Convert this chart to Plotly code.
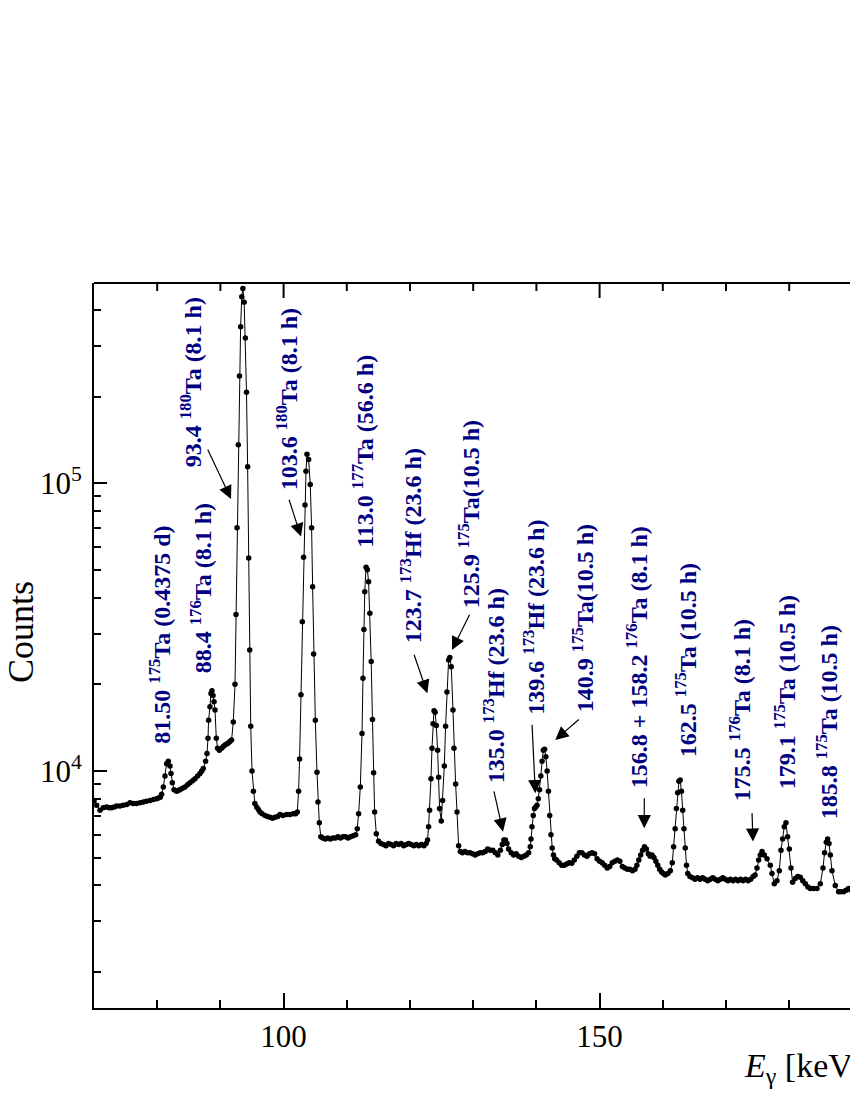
import numpy as np
import plotly.graph_objects as go

# ---------------- spectrum (energy in keV, counts) ----------------
energy_keV = [
    70.0, 70.41, 70.95, 71.47, 71.99, 72.4, 72.78, 73.2, 73.58, 74.1, 74.64, 75.2, 75.70, 76.2, 76.74,
    77.3, 77.80, 78.3, 78.86, 79.4, 79.91, 80.2, 80.49, 80.70, 80.97, 81.23, 81.49, 81.76, 82.03, 82.18,
    82.39, 82.66, 83.07, 83.3, 83.61, 84.0, 84.40, 84.8, 85.19, 85.6, 85.98, 86.4, 86.77, 87.05, 87.29,
    87.66, 87.88, 88.04, 88.13, 88.35, 88.51, 88.67, 88.83, 88.99, 89.15, 89.35, 89.56, 89.83, 90.19,
    90.46, 90.73, 91.0, 91.25, 91.5, 91.77, 92.04, 92.31, 92.47, 92.63, 92.83, 93.02, 93.20, 93.38,
    93.56, 93.76, 93.95, 94.13, 94.31, 94.48, 94.64, 94.80, 95.00, 95.22, 95.45, 95.73, 96.0, 96.27,
    96.6, 97.06, 97.45, 97.85, 98.25, 98.64, 99.05, 99.43, 99.9, 100.47, 101.0, 101.53, 101.9, 102.17,
    102.37, 102.53, 102.75, 102.96, 103.16, 103.39, 103.54, 103.70, 103.96, 104.22, 104.43, 104.59,
    104.75, 105.02, 105.28, 105.44, 105.65, 105.89, 106.2, 106.6, 107.0, 107.4, 107.8, 108.2, 108.6,
    109.0, 109.4, 109.8, 110.2, 110.6, 111.0, 111.4, 111.65, 111.87, 112.14, 112.41, 112.56, 112.70,
    112.84, 113.05, 113.25, 113.45, 113.65, 113.86, 114.06, 114.24, 114.40, 114.67, 115.03, 115.4,
    115.8, 116.2, 116.6, 117.0, 117.4, 117.8, 118.2, 118.6, 119.0, 119.4, 119.8, 120.2, 120.6, 121.0,
    121.4, 121.8, 122.2, 122.55, 122.78, 122.94, 123.10, 123.32, 123.48, 123.64, 123.80, 123.97, 124.16,
    124.37, 124.53, 124.68, 124.95, 125.16, 125.43, 125.63, 125.85, 126.11, 126.30, 126.53, 126.80,
    126.96, 127.22, 127.44, 127.69, 127.96, 128.3, 128.7, 129.1, 129.5, 129.9, 130.3, 130.7, 131.1,
    131.5, 131.9, 132.3, 132.7, 133.1, 133.5, 133.9, 134.3, 134.6, 134.85, 135.1, 135.35, 135.6, 136.0,
    136.4, 136.8, 137.2, 137.6, 138.0, 138.4, 138.77, 139.03, 139.15, 139.30, 139.50, 139.70, 139.90,
    140.10, 140.30, 140.50, 140.70, 140.90, 141.10, 141.30, 141.50, 141.70, 141.90, 142.10, 142.30,
    142.50, 142.70, 142.90, 143.2, 143.6, 144.0, 144.4, 144.8, 145.2, 145.6, 146.0, 146.4, 146.8, 147.2,
    147.6, 148.0, 148.4, 148.8, 149.2, 149.6, 150.0, 150.4, 150.8, 151.2, 151.6, 152.0, 152.4, 152.8,
    153.2, 153.6, 154.0, 154.4, 154.8, 155.2, 155.6, 155.9, 156.2, 156.5, 156.8, 157.1, 157.4, 157.7,
    158.0, 158.3, 158.6, 158.9, 159.2, 159.5, 159.8, 160.1, 160.4, 160.8, 161.2, 161.5, 161.71, 161.95,
    162.15, 162.35, 162.55, 162.75, 162.95, 163.15, 163.35, 163.55, 163.75, 163.95, 164.3, 164.7, 165.1,
    165.5, 165.9, 166.3, 166.7, 167.1, 167.5, 167.9, 168.3, 168.7, 169.1, 169.5, 169.9, 170.3, 170.7,
    171.1, 171.5, 171.9, 172.3, 172.7, 173.1, 173.5, 173.9, 174.3, 174.6, 174.9, 175.16, 175.43, 175.70,
    176.06, 176.49, 177.01, 177.28, 177.64, 178.07, 178.43, 178.70, 178.96, 179.22, 179.49, 179.75,
    180.02, 180.29, 180.54, 180.96, 181.35, 181.75, 182.15, 182.55, 182.95, 183.34, 183.85, 184.40,
    184.92, 185.35, 185.60, 185.87, 186.08, 186.30, 186.51, 186.77, 187.29, 187.82, 188.2, 188.61,
    189.0, 189.40, 189.8,
]
counts = [
    7900, 7600, 7300, 7450, 7500, 7450, 7450, 7500, 7550, 7550, 7600, 7650, 7750, 7700, 7700,
    7750, 7800, 7850, 7900, 7950, 8000, 8050, 8100, 8300, 8800, 9600, 10600, 10800, 10400, 9800,
    9100, 8600, 8500, 8550, 8600, 8700, 8800, 8950, 9100, 9250, 9400, 9600, 9800, 10000, 10200,
    10800, 11500, 13000, 15000, 16700, 18600, 19000, 18300, 17400, 16300, 13000, 12000, 11800, 12000,
    12150, 12300, 12400, 12500, 12650, 12800, 14800, 20000, 35000, 70000, 136000, 236000, 350000, 445000,
    475000, 426000, 320000, 207000, 114000, 55000, 26300, 14300, 10000, 8500, 7700, 7500, 7350, 7200,
    7100, 7000, 6950, 6900, 6850, 6900, 6950, 7050, 7000, 7050, 7050, 7100, 7100, 7200,
    8500, 11000, 18400, 33000, 55300, 84000, 110000, 126000, 121000, 99000, 70000, 43700,
    25500, 15000, 9900, 7800, 6600, 5900, 5850, 5800, 5850, 5800, 5850, 5850, 5900,
    5850, 5900, 5900, 5850, 5900, 5950, 6000, 6300, 7100, 8800, 13500, 21000, 31000,
    42000, 51000, 50000, 45500, 35300, 24000, 15100, 9850, 7200, 6050, 5700, 5600,
    5550, 5500, 5600, 5550, 5500, 5600, 5550, 5600, 5500, 5550, 5600, 5550, 5500, 5550,
    5500, 5550, 5500, 5600, 5750, 6400, 7300, 9400, 12000, 14600, 16200, 16000, 14400,
    11800, 9500, 7400, 6700, 7900, 10400, 14300, 18800, 24300, 24800, 23000, 16300,
    12000, 9000, 7200, 5500, 5250, 5200, 5250, 5200, 5200, 5150, 5100, 5150, 5200,
    5200, 5250, 5350, 5300, 5300, 5200, 5100, 5300, 5550, 5750, 5750, 5600, 5350, 5200,
    5100, 5150, 5050, 5000, 5050, 5100, 5200, 5450, 5800, 6400, 7000, 7400, 7500,
    7600, 8000, 8600, 9600, 10800, 11800, 11900, 11200, 10000, 8500, 7000, 6000,
    5400, 5100, 4950, 4900, 4800, 4700, 4700, 4750, 4800, 4780, 4900, 5050, 5200, 5200,
    5100, 5050, 5150, 5200, 5150, 4950, 4850, 4800, 4700, 4600, 4650, 4800, 4850, 4900,
    4850, 4650, 4600, 4550, 4550, 4500, 4550, 4700, 4900, 5100, 5300, 5450, 5350, 5150,
    5050, 5100, 5000, 4850, 4700, 4550, 4450, 4400, 4350, 4400, 4500, 4800, 5450, 6300,
    7400, 8400, 9200, 9300, 8500, 7300, 6300, 5400, 4700, 4400, 4300, 4250, 4200,
    4250, 4200, 4250, 4200, 4150, 4200, 4250, 4200, 4150, 4200, 4250, 4200, 4150, 4200,
    4150, 4200, 4150, 4200, 4150, 4200, 4150, 4200, 4300, 4350, 4600, 4900, 5100, 5250,
    5100, 4950, 4700, 4400, 4050, 4150, 4500, 5300, 5800, 6400, 6600, 5900,
    5350, 4600, 4100, 4230, 4300, 4270, 4150, 4050, 3950, 3900, 3900, 3900,
    4050, 4600, 5200, 5650, 5800, 5600, 5100, 4500, 4000, 3800, 3800, 3800,
    3850, 3900, 3850,
]

# ---------------- peak labels ----------------
label_text = [
    "81.50 <sup>175</sup>Ta (0.4375 d)",
    "88.4 <sup>176</sup>Ta (8.1 h)",
    "93.4 <sup>180</sup>Ta (8.1 h)",
    "103.6 <sup>180</sup>Ta (8.1 h)",
    "113.0 <sup>177</sup>Ta (56.6 h)",
    "123.7 <sup>173</sup>Hf (23.6 h)",
    "125.9 <sup>175</sup>Ta(10.5 h)",
    "135.0 <sup>173</sup>Hf (23.6 h)",
    "139.6 <sup>173</sup>Hf (23.6 h)",
    "140.9 <sup>175</sup>Ta(10.5 h)",
    "156.8 + 158.2 <sup>176</sup>Ta (8.1 h)",
    "162.5 <sup>175</sup>Ta (10.5 h)",
    "175.5 <sup>176</sup>Ta (8.1 h)",
    "179.1 <sup>175</sup>Ta (10.5 h)",
    "185.8 <sup>175</sup>Ta (10.5 h)",
]
label_x = [80.49, 86.98, 85.32, 100.59, 112.53, 120.21, 129.38, 133.34, 139.67, 147.42,
           156.04, 163.72, 172.26, 179.38, 186.03]
label_y = [29820, 43250, 223900, 196300, 129400, 60530, 78160, 19750, 34160, 34030,
           24800, 24310, 16290, 18820, 14790]

# ---------------- arrows (tail -> head) ----------------
arrow_tail_x = [87.88, 100.79, 120.57, 129.54, 133.23, 139.30, 146.95, 157.07, 174.11]
arrow_tail_y = [132700, 88700, 25660, 35330, 8590, 14650, 15250, 8140, 7220]
arrow_head_x = [91.68, 102.75, 122.74, 126.65, 134.72, 139.83, 142.99, 157.07, 174.27]
arrow_head_y = [88200, 65240, 18630, 26340, 6150, 8365, 12820, 6320, 5680]

# ---------------- axis ticks ----------------
x_major_ticks = [100, 150]
x_minor_ticks = [80, 90, 110, 120, 130, 140, 160, 170, 180]
y_major_ticks = [1e4, 1e5]
y_major_text = ["10<sup>4</sup>", "10<sup>5</sup>"]

SERIF = "Liberation Serif"
LABEL_COLOR = "#000080"
X_RANGE = [70, 189.62]

fig = go.Figure()
fig.add_trace(go.Scatter(
    x=energy_keV, y=counts, mode="lines+markers",
    line=dict(color="black", width=1),
    marker=dict(color="black", size=5.5),
    showlegend=False, hoverinfo="skip",
))

annotations = []
for t, x, y in zip(label_text, label_x, label_y):
    annotations.append(dict(
        x=x, y=np.log10(y), xref="x", yref="y", text="<b>" + t + "</b>",
        textangle=-90, showarrow=False, xanchor="center", yanchor="middle",
        font=dict(family=SERIF, size=24, color=LABEL_COLOR),
    ))
for tx, ty, hx, hy in zip(arrow_tail_x, arrow_tail_y, arrow_head_x, arrow_head_y):
    annotations.append(dict(
        x=hx, y=np.log10(hy), ax=tx, ay=np.log10(ty),
        xref="x", yref="y", axref="x", ayref="y", text="",
        showarrow=True, arrowhead=2, arrowsize=2.2, arrowwidth=1.2,
        arrowcolor="black", standoff=0, startstandoff=0,
    ))
# axis titles
annotations.append(dict(
    x=-0.0966, y=0.5186, xref="paper", yref="paper", text="Counts",
    textangle=-90, showarrow=False, xanchor="center", yanchor="middle",
    font=dict(family=SERIF, size=36, color="black"),
))
annotations.append(dict(
    x=0.857, y=-0.083, xref="paper", yref="paper",
    text="<i>E</i><sub>γ</sub> [keV]",
    showarrow=False, xanchor="left", yanchor="middle",
    font=dict(family=SERIF, size=34, color="black"),
))

# top frame line with inward ticks (mirror of the bottom axis)
shapes = [dict(type="line", xref="paper", yref="paper", x0=0, x1=1, y0=1, y1=1,
               line=dict(color="black", width=2), layer="above")]
for tv, tl in [(v, 15) for v in x_major_ticks] + [(v, 8) for v in x_minor_ticks]:
    shapes.append(dict(type="line", xref="x", yref="paper", x0=tv, x1=tv,
                       ysizemode="pixel", yanchor=1, y0=0, y1=-tl,
                       line=dict(color="black", width=2), layer="above"))

minor_y = [m * 10 ** e for e in (3, 4, 5) for m in range(2, 10) if 1450 < m * 10 ** e < 5e5]

fig.update_layout(
    width=850, height=1100,
    margin=dict(l=94, r=0, t=283, b=92),
    paper_bgcolor="white", plot_bgcolor="white",
    annotations=annotations,
    shapes=shapes,
    xaxis=dict(
        range=X_RANGE, tickvals=x_major_ticks,
        ticktext=[str(v) for v in x_major_ticks],
        ticks="inside", ticklen=15, tickwidth=2, tickcolor="black",
        showline=True, linewidth=2, linecolor="black", mirror=False,
        showgrid=False, zeroline=False,
        tickfont=dict(family=SERIF, size=31, color="black"),
        minor=dict(tickvals=x_minor_ticks, ticks="inside", ticklen=8, tickwidth=2,
                   tickcolor="black", showgrid=False),
    ),
    yaxis=dict(
        type="log", range=[3.176, 5.696], tickvals=y_major_ticks,
        ticktext=y_major_text,
        ticks="inside", ticklen=13, tickwidth=2, tickcolor="black",
        showline=True, linewidth=2, linecolor="black", mirror=False,
        showgrid=False, zeroline=False, ticklabelstandoff=4,
        tickfont=dict(family=SERIF, size=31, color="black"),
        minor=dict(tickvals=minor_y, ticks="inside", ticklen=7, tickwidth=2,
                   tickcolor="black", showgrid=False),
    ),
)

fig.write_html("out.html", config={"displayModeBar": False},
               post_script="document.body.style.margin='0';")
